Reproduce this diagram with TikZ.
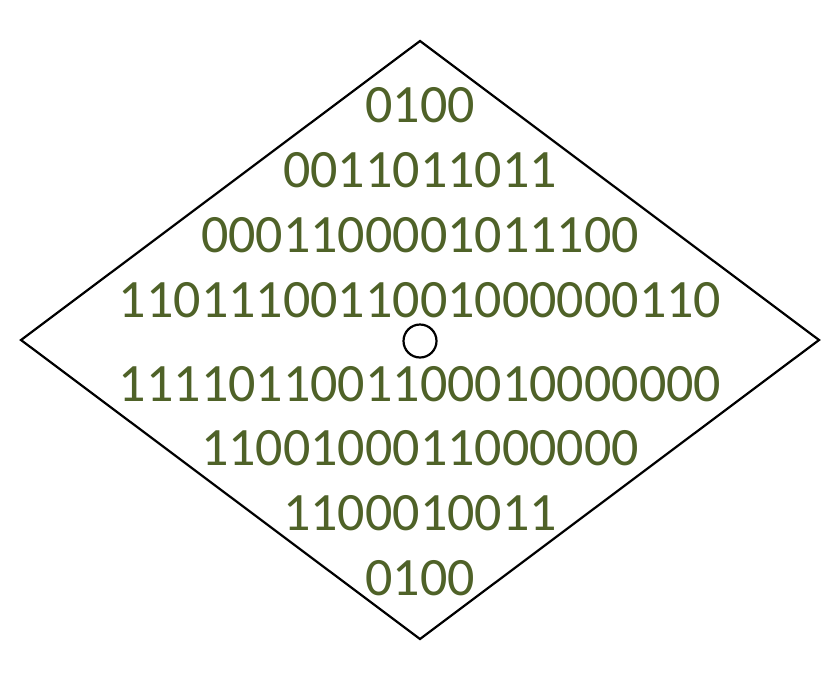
\documentclass[tikz,border=0pt]{standalone}
\usepackage{fontspec}
\setmainfont{Carlito}
\definecolor{olivetext}{HTML}{4F6228}
\tikzset{
  bits/.style={anchor=base, inner sep=0pt, text=olivetext, font=\fontsize{54}{60}\selectfont},
  outline/.style={draw=black, line width=2.2pt, line join=miter},
  hole/.style={circle, draw=black, line width=2.2pt, minimum size=33pt, inner sep=0pt, fill=white}
}
\begin{document}
\begin{tikzpicture}[x=1pt, y=-1pt]
  \useasboundingbox (0,0) rectangle (840,672);
  \fill[white] (0,0) rectangle (840,672);
  \coordinate (T) at (420,41);
  \coordinate (R) at (819,340);
  \coordinate (B) at (420,639);
  \coordinate (L) at (21,340);
  \draw[outline, fill=white] (T) -- (R) -- (B) -- (L) -- cycle;
  \node[hole] (c) at (420,341) {};
  \node[bits] (r1) at (420,122) {0100};
  \node[bits] (r2) at (420,187) {0011011011};
  \node[bits] (r3) at (420,252) {0001100001011100};
  \node[bits] (r4) at (420,317) {1101110011001000000110};
  \node[bits] (r5) at (420,401) {1111011001100010000000};
  \node[bits] (r6) at (420,465) {1100100011000000};
  \node[bits] (r7) at (420,530) {1100010011};
  \node[bits] (r8) at (420,595) {0100};
\end{tikzpicture}
\end{document}
